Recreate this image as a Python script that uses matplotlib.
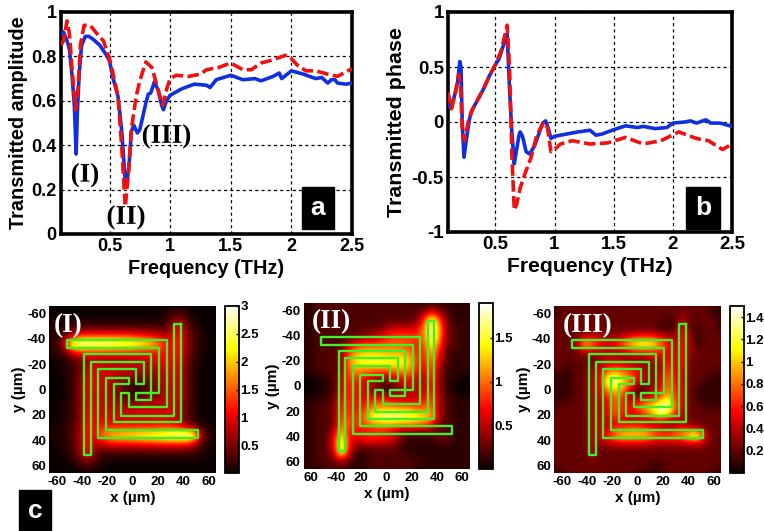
import numpy as np
import matplotlib
matplotlib.use("Agg")
import matplotlib.pyplot as plt
import matplotlib.patheffects as pe

plt.rcParams['font.family'] = ['Liberation Sans', 'DejaVu Sans']
plt.rcParams['font.weight'] = 'bold'
plt.rcParams['axes.labelweight'] = 'bold'

W, H = 764, 531

# panel a
f_amp_blue = [0.10, 0.12, 0.15, 0.17, 0.19, 0.21, 0.225, 0.235, 0.25, 0.27, 0.30, 0.33, 0.37, 0.42, 0.47, 0.50, 0.53, 0.57, 0.60, 0.63, 0.64, 0.66, 0.68, 0.70, 0.73, 0.75, 0.80, 0.82, 0.84, 0.87, 0.90, 0.93, 0.945, 0.97, 1.00, 1.10, 1.20, 1.30, 1.33, 1.38, 1.50, 1.60, 1.70, 1.75, 1.85, 1.90, 1.92, 2.00, 2.10, 2.20, 2.25, 2.30, 2.33, 2.36, 2.38, 2.45, 2.50]
amp_blue = [0.90, 0.91, 0.87, 0.83, 0.72, 0.58, 0.36, 0.55, 0.72, 0.85, 0.89, 0.89, 0.875, 0.85, 0.81, 0.78, 0.70, 0.62, 0.47, 0.24, 0.22, 0.30, 0.46, 0.49, 0.455, 0.47, 0.59, 0.63, 0.635, 0.685, 0.65, 0.58, 0.56, 0.60, 0.625, 0.655, 0.675, 0.67, 0.66, 0.695, 0.715, 0.695, 0.70, 0.69, 0.71, 0.725, 0.70, 0.735, 0.72, 0.70, 0.705, 0.68, 0.695, 0.695, 0.68, 0.675, 0.68]
f_amp_red = [0.10, 0.12, 0.15, 0.17, 0.19, 0.22, 0.24, 0.26, 0.29, 0.34, 0.40, 0.45, 0.50, 0.53, 0.57, 0.60, 0.63, 0.66, 0.68, 0.72, 0.75, 0.80, 0.85, 0.90, 0.94, 0.97, 1.00, 1.05, 1.15, 1.25, 1.30, 1.40, 1.50, 1.60, 1.67, 1.75, 1.85, 1.95, 2.00, 2.05, 2.12, 2.20, 2.30, 2.38, 2.45, 2.50]
amp_red = [0.85, 0.87, 0.96, 0.90, 0.75, 0.56, 0.65, 0.85, 0.94, 0.94, 0.90, 0.87, 0.79, 0.72, 0.62, 0.40, 0.12, 0.30, 0.47, 0.62, 0.69, 0.775, 0.75, 0.65, 0.58, 0.65, 0.70, 0.715, 0.71, 0.72, 0.74, 0.75, 0.77, 0.74, 0.74, 0.77, 0.785, 0.805, 0.79, 0.76, 0.735, 0.735, 0.72, 0.71, 0.73, 0.745]

# panel b
f_ph_blue = [0.10, 0.12, 0.15, 0.18, 0.20, 0.21, 0.22, 0.235, 0.25, 0.28, 0.30, 0.35, 0.40, 0.45, 0.50, 0.53, 0.56, 0.60, 0.62, 0.64, 0.66, 0.68, 0.70, 0.71, 0.73, 0.76, 0.79, 0.83, 0.87, 0.90, 0.925, 0.94, 0.97, 1.00, 1.10, 1.20, 1.30, 1.35, 1.40, 1.50, 1.60, 1.70, 1.75, 1.85, 1.95, 2.00, 2.10, 2.15, 2.20, 2.28, 2.32, 2.40, 2.50]
ph_blue = [0.15, 0.13, 0.22, 0.35, 0.55, 0.50, 0.00, -0.32, -0.20, 0.02, 0.10, 0.20, 0.30, 0.42, 0.52, 0.57, 0.67, 0.80, 0.30, -0.10, -0.38, -0.25, -0.12, -0.09, -0.13, -0.27, -0.29, -0.22, -0.10, -0.01, 0.01, -0.03, -0.15, -0.13, -0.11, -0.09, -0.075, -0.12, -0.11, -0.07, -0.035, -0.05, -0.04, -0.06, -0.05, -0.01, 0.00, 0.01, -0.01, 0.02, -0.01, -0.01, -0.04]
f_ph_red = [0.10, 0.13, 0.16, 0.19, 0.205, 0.22, 0.24, 0.27, 0.30, 0.35, 0.40, 0.45, 0.50, 0.55, 0.60, 0.62, 0.64, 0.66, 0.68, 0.71, 0.75, 0.80, 0.85, 0.91, 0.94, 0.97, 1.00, 1.05, 1.15, 1.30, 1.45, 1.60, 1.75, 1.90, 2.05, 2.20, 2.30, 2.42, 2.50]
ph_red = [0.27, 0.12, 0.25, 0.43, 0.35, -0.05, -0.17, 0.00, 0.10, 0.20, 0.30, 0.42, 0.52, 0.65, 0.88, 0.50, -0.30, -0.80, -0.75, -0.60, -0.47, -0.33, -0.12, 0.00, -0.05, -0.27, -0.25, -0.20, -0.17, -0.20, -0.19, -0.14, -0.20, -0.17, -0.09, -0.15, -0.17, -0.25, -0.20]

freq_ticks = [0.5, 1, 1.5, 2, 2.5]
freq_labels = ['0.5', '1', '1.5', '2', '2.5']

# spiral outline (um)
spiral_x = [38, 38, -15, -15, -3, -3, -21, -21, 52, 52, -27, -27, 3, 3, 9, 9, -33, -33, -38, -38, 15, 15, 3, 3, 21, 21, -52, -52, 27, 27, -3, -3, -9, -9, 33, 33, 38]
spiral_y = [-52, 26, 26, -4, -4, -9, -9, 32, 32, 38, 38, -16, -16, -4, -4, -22, -22, 52, 52, -28, -28, 8, 8, 3, 3, -33, -33, -39, -39, 14, 14, 3, 3, 21, 21, -52, -52]

# field maps, x10, 6 um grid from -66 to 66, rows top to bottom
field_I = [
 [0, 0, 0, 0, 0, 0, 0, 0, 0, 0, 0, 0, 0, 0, 0, 0, 0, 0, 0, 0, 0, 0, 0],
 [0, 0, 0, 0, 0, 0, 0, 0, 0, 0, 0, 0, 0, 0, 0, 1, 2, 3, 2, 0, 0, 0, 0],
 [1, 1, 1, 1, 1, 1, 1, 1, 1, 1, 1, 1, 1, 1, 1, 1, 4, 8, 4, 1, 0, 0, 0],
 [1, 1, 1, 3, 4, 4, 4, 4, 4, 4, 4, 4, 4, 4, 4, 3, 6, 11, 6, 2, 1, 0, 0],
 [1, 1, 4, 9, 14, 15, 15, 15, 15, 15, 15, 14, 13, 12, 11, 9, 8, 13, 7, 3, 1, 0, 0],
 [1, 2, 8, 28, 30, 30, 30, 30, 29, 28, 27, 26, 25, 23, 19, 14, 10, 13, 7, 3, 1, 1, 0],
 [1, 1, 4, 10, 14, 14, 13, 13, 13, 13, 13, 13, 12, 12, 12, 12, 10, 13, 6, 3, 1, 0, 0],
 [0, 1, 1, 3, 5, 6, 8, 7, 7, 7, 7, 8, 8, 9, 10, 11, 10, 12, 6, 2, 1, 0, 0],
 [0, 0, 1, 2, 4, 8, 10, 9, 9, 9, 9, 8, 8, 8, 8, 10, 10, 11, 5, 2, 0, 0, 0],
 [0, 0, 1, 2, 4, 9, 10, 9, 9, 8, 8, 7, 6, 7, 6, 9, 9, 11, 5, 2, 0, 0, 0],
 [0, 0, 0, 2, 5, 10, 10, 9, 8, 7, 5, 4, 4, 4, 6, 8, 9, 10, 5, 2, 0, 0, 0],
 [0, 0, 0, 2, 5, 10, 10, 9, 8, 5, 3, 1, 1, 3, 5, 8, 8, 10, 5, 2, 0, 0, 0],
 [0, 0, 0, 2, 5, 10, 9, 8, 8, 6, 4, 3, 4, 5, 5, 8, 8, 10, 5, 2, 0, 0, 0],
 [0, 0, 1, 2, 5, 10, 10, 9, 8, 8, 6, 6, 7, 8, 8, 8, 9, 9, 4, 2, 0, 0, 0],
 [0, 0, 1, 2, 5, 11, 10, 9, 9, 9, 9, 9, 9, 9, 9, 9, 9, 9, 4, 2, 0, 0, 0],
 [0, 0, 1, 2, 5, 11, 10, 10, 10, 9, 9, 9, 9, 9, 10, 10, 9, 8, 4, 2, 1, 0, 0],
 [1, 1, 1, 3, 6, 12, 11, 12, 13, 13, 13, 13, 13, 13, 13, 13, 13, 12, 10, 5, 2, 1, 0],
 [1, 1, 1, 3, 6, 12, 9, 18, 20, 21, 22, 23, 24, 25, 26, 27, 29, 30, 30, 30, 8, 2, 1],
 [0, 1, 1, 3, 6, 12, 8, 9, 12, 13, 13, 13, 14, 14, 14, 15, 15, 15, 15, 11, 4, 1, 0],
 [0, 0, 1, 2, 6, 12, 6, 4, 4, 4, 4, 4, 4, 4, 4, 4, 4, 4, 4, 3, 1, 1, 0],
 [0, 0, 0, 2, 4, 8, 4, 1, 1, 1, 1, 1, 1, 1, 1, 1, 1, 1, 1, 1, 1, 0, 0],
 [0, 0, 0, 0, 2, 3, 2, 1, 0, 0, 0, 0, 0, 0, 0, 0, 0, 0, 0, 0, 0, 0, 0],
 [0, 0, 0, 0, 0, 0, 0, 0, 0, 0, 0, 0, 0, 0, 0, 0, 0, 0, 0, 0, 0, 0, 0],
]
field_II = [
 [1, 1, 2, 2, 2, 2, 2, 2, 2, 2, 2, 2, 2, 2, 2, 1, 1, 2, 1, 1, 1, 1, 1],
 [1, 1, 2, 2, 2, 2, 2, 2, 2, 2, 2, 2, 2, 2, 2, 2, 3, 5, 3, 2, 1, 1, 1],
 [1, 1, 2, 2, 2, 2, 2, 2, 2, 2, 2, 2, 2, 2, 2, 3, 8, 15, 8, 2, 1, 1, 1],
 [1, 1, 2, 2, 2, 2, 2, 2, 2, 2, 2, 3, 4, 4, 4, 5, 11, 19, 11, 3, 2, 1, 1],
 [1, 1, 2, 2, 2, 2, 2, 2, 3, 4, 5, 7, 8, 8, 8, 8, 11, 19, 11, 3, 2, 1, 1],
 [1, 1, 2, 2, 1, 2, 3, 5, 6, 6, 7, 8, 9, 9, 9, 8, 10, 17, 10, 3, 2, 1, 1],
 [1, 1, 2, 2, 2, 3, 7, 10, 11, 11, 11, 11, 11, 10, 9, 7, 9, 14, 8, 2, 2, 1, 1],
 [1, 1, 2, 2, 2, 4, 10, 13, 14, 14, 14, 13, 13, 13, 12, 8, 8, 12, 6, 2, 1, 1, 1],
 [1, 1, 2, 2, 2, 4, 11, 14, 15, 16, 16, 15, 15, 15, 13, 8, 7, 11, 5, 2, 1, 1, 1],
 [1, 1, 2, 2, 2, 4, 10, 11, 10, 9, 9, 9, 10, 11, 11, 7, 6, 10, 4, 1, 1, 1, 1],
 [0, 0, 1, 1, 2, 6, 9, 8, 7, 6, 4, 4, 6, 7, 8, 5, 5, 9, 4, 1, 1, 0, 0],
 [0, 0, 0, 1, 2, 6, 8, 7, 6, 4, 2, 1, 2, 4, 6, 5, 5, 8, 4, 1, 0, 0, 0],
 [0, 0, 1, 1, 2, 7, 8, 7, 6, 5, 4, 3, 4, 5, 5, 5, 6, 9, 4, 1, 1, 0, 0],
 [1, 1, 1, 2, 3, 8, 8, 7, 7, 8, 9, 8, 7, 6, 6, 6, 8, 10, 4, 2, 1, 1, 1],
 [1, 1, 2, 2, 3, 9, 8, 7, 8, 11, 12, 12, 12, 12, 12, 10, 10, 10, 4, 2, 1, 1, 1],
 [1, 1, 2, 2, 3, 10, 8, 8, 10, 15, 17, 18, 18, 17, 16, 15, 14, 12, 4, 2, 1, 1, 1],
 [1, 1, 2, 2, 3, 11, 9, 8, 9, 11, 12, 12, 12, 12, 12, 11, 10, 7, 3, 2, 1, 1, 1],
 [1, 1, 2, 2, 5, 13, 7, 7, 7, 7, 7, 7, 5, 3, 3, 3, 3, 3, 2, 2, 1, 1, 1],
 [1, 1, 2, 2, 7, 16, 7, 6, 8, 8, 8, 7, 6, 3, 1, 1, 1, 1, 3, 3, 1, 1, 1],
 [1, 1, 2, 2, 7, 19, 7, 3, 3, 3, 3, 3, 3, 1, 1, 1, 1, 1, 1, 1, 1, 1, 1],
 [1, 1, 2, 2, 5, 16, 5, 1, 1, 2, 2, 2, 2, 2, 1, 1, 1, 1, 1, 1, 1, 1, 1],
 [1, 1, 2, 2, 2, 4, 2, 1, 1, 2, 2, 2, 2, 2, 2, 2, 1, 1, 1, 1, 1, 1, 1],
 [1, 1, 1, 2, 2, 2, 1, 1, 1, 2, 2, 2, 2, 2, 2, 1, 1, 1, 1, 1, 1, 1, 1],
]
field_III = [
 [1, 2, 2, 2, 2, 2, 2, 2, 2, 2, 2, 2, 2, 2, 2, 2, 2, 2, 2, 2, 2, 1, 1],
 [1, 2, 2, 2, 2, 2, 2, 2, 2, 2, 2, 2, 2, 2, 2, 2, 2, 3, 2, 2, 2, 1, 1],
 [2, 2, 2, 2, 2, 2, 2, 2, 2, 2, 2, 2, 2, 2, 2, 1, 2, 4, 2, 2, 2, 2, 1],
 [2, 2, 2, 2, 2, 2, 2, 2, 2, 2, 2, 2, 2, 2, 1, 1, 2, 5, 2, 1, 2, 2, 1],
 [2, 2, 2, 2, 4, 4, 4, 3, 3, 4, 5, 6, 6, 6, 5, 4, 3, 6, 3, 1, 2, 2, 2],
 [2, 2, 2, 4, 11, 9, 6, 5, 6, 8, 11, 12, 13, 12, 9, 6, 4, 6, 3, 1, 2, 2, 2],
 [2, 2, 2, 2, 4, 4, 4, 4, 4, 4, 5, 6, 6, 6, 6, 5, 4, 6, 3, 2, 2, 2, 2],
 [2, 2, 2, 2, 2, 2, 3, 4, 4, 3, 3, 3, 3, 4, 4, 6, 4, 6, 2, 2, 2, 2, 2],
 [2, 2, 1, 2, 2, 3, 4, 5, 6, 6, 5, 4, 3, 3, 3, 7, 4, 6, 2, 2, 2, 2, 2],
 [1, 1, 1, 2, 2, 4, 4, 10, 11, 9, 8, 6, 4, 3, 4, 8, 5, 5, 2, 2, 2, 1, 1],
 [1, 1, 1, 2, 2, 4, 4, 13, 15, 11, 8, 5, 3, 3, 4, 9, 5, 5, 2, 2, 1, 1, 1],
 [1, 1, 1, 2, 2, 4, 4, 9, 10, 9, 5, 1, 1, 4, 5, 9, 6, 5, 2, 1, 1, 1, 1],
 [1, 1, 1, 2, 2, 4, 4, 6, 8, 7, 3, 3, 4, 5, 7, 11, 6, 5, 2, 1, 1, 1, 1],
 [1, 2, 2, 2, 2, 4, 4, 5, 8, 6, 5, 7, 9, 10, 13, 15, 7, 5, 2, 2, 1, 1, 1],
 [2, 2, 2, 2, 2, 4, 4, 5, 8, 6, 5, 6, 8, 11, 15, 13, 6, 4, 2, 2, 2, 2, 2],
 [2, 2, 2, 2, 2, 4, 4, 4, 6, 5, 4, 4, 4, 4, 5, 4, 4, 4, 2, 2, 2, 2, 2],
 [2, 2, 2, 2, 2, 4, 4, 4, 6, 6, 7, 7, 6, 5, 4, 3, 4, 5, 4, 3, 2, 2, 2],
 [2, 2, 2, 2, 2, 4, 4, 6, 9, 11, 11, 11, 11, 9, 8, 8, 9, 10, 13, 14, 4, 2, 2],
 [2, 2, 2, 2, 2, 4, 3, 4, 5, 5, 5, 5, 5, 4, 4, 4, 4, 4, 5, 5, 3, 2, 2],
 [2, 2, 2, 2, 2, 4, 2, 2, 2, 2, 2, 2, 2, 2, 2, 2, 2, 2, 2, 2, 2, 2, 2],
 [2, 2, 2, 2, 2, 3, 2, 2, 2, 2, 2, 2, 2, 2, 2, 2, 2, 2, 2, 2, 2, 2, 2],
 [2, 2, 2, 2, 2, 2, 2, 2, 2, 2, 2, 2, 2, 1, 1, 2, 2, 2, 2, 2, 2, 2, 2],
 [1, 1, 2, 2, 2, 2, 2, 2, 2, 2, 2, 1, 1, 1, 1, 2, 2, 2, 2, 2, 2, 1, 1],
]

map_ticks = [-60, -40, -20, 0, 20, 40, 60]
map_xlabels_I = ['-60', '-40', '-20', '0', '20', '40', '60']
map_xlabels_II = ['60', '-40', '20', '0', '20', '40', '60']
map_ylabels = ['-60', '-40', '-20', '0', '20', '40', '60']
cbar_I = [0.5, 1, 1.5, 2, 2.5, 3]
cbar_II = [0.5, 1, 1.5]
cbar_III = [0.2, 0.4, 0.6, 0.8, 1, 1.2, 1.4]


def box(fig, left, top, right, bottom):
    return fig.add_axes([left / W, 1 - bottom / H, (right - left) / W, (bottom - top) / H])


def line_panel(fig, rect, fb, yb, fr, yr, ylim, yticks, ylabels, ylabel, ylab_x, tick_fs, xlab_fs, ylab_fs):
    ax = box(fig, *rect)
    ax.plot(fb, yb, color='#1030e0', lw=2.6, zorder=3)
    ax.plot(fr, yr, color='#f01010', lw=2.6, dashes=(3.2, 1.2), zorder=4)
    ax.set_xlim(0.1, 2.5)
    ax.set_ylim(*ylim)
    ax.set_xticks(freq_ticks, freq_labels)
    ax.set_yticks(yticks, ylabels)
    ax.grid(True, color='black', ls=(0, (2.5, 2.5)), lw=0.9)
    ax.tick_params(labelsize=tick_fs, length=0, pad=3)
    for s in ax.spines.values():
        s.set_linewidth(2.6)
    ax.set_xlabel('Frequency (THz)', fontsize=xlab_fs, labelpad=3)
    fig.text(ylab_x / W, 1 - (rect[1] + rect[3]) / 2 / H, ylabel, rotation=90,
             fontsize=ylab_fs, ha='center', va='center')
    return ax


def map_panel(fig, rect, cb_x, field, vmax, xlabels, cticks):
    ax = box(fig, *rect)
    im = ax.imshow(np.array(field) / 10, cmap='hot', vmin=0, vmax=vmax,
                   extent=[-69, 69, 69, -69], interpolation='bicubic')
    ax.plot(spiral_x, spiral_y, color='#40f028', lw=1.7)
    ax.set_xlim(-66, 66)
    ax.set_ylim(66, -66)
    ax.set_xticks(map_ticks, xlabels)
    ax.set_yticks(map_ticks, map_ylabels)
    ax.tick_params(labelsize=9.5, length=0, pad=2)
    for s in ax.spines.values():
        s.set_visible(False)
    ax.set_xlabel('x (\u00b5m)', fontsize=11, labelpad=2)
    ax.set_ylabel('y (\u00b5m)', fontsize=11, labelpad=1)
    cax = box(fig, cb_x, rect[1], cb_x + 14, rect[3])
    cb = fig.colorbar(im, cax=cax)
    cb.set_ticks(cticks, labels=[str(c) for c in cticks])
    cax.tick_params(labelsize=9.5, length=2, width=1, direction='in', pad=1)
    cb.outline.set_linewidth(1.3)
    return ax


def tag(fig, left, top, right, bottom, s):
    fig.patches.append(plt.Rectangle((left / W, 1 - bottom / H), (right - left) / W, (bottom - top) / H,
                                     transform=fig.transFigure, color='black', zorder=5))
    fig.text((left + right) / 2 / W, 1 - (top + bottom) / 2 / H, s, color='white', fontsize=19,
             ha='center', va='center', zorder=6)


fig = plt.figure(figsize=(W / 100, H / 100), dpi=100)

ax_a = line_panel(fig, (61, 12, 352, 234), f_amp_blue, amp_blue, f_amp_red, amp_red, (0, 1),
                  [0, 0.2, 0.4, 0.6, 0.8, 1], ['0', '0.2', '0.4', '0.6', '0.8', '1'],
                  'Transmitted amplitude', 19, 13, 14.3, 14.3)
ax_b = line_panel(fig, (448, 12, 732, 232), f_ph_blue, ph_blue, f_ph_red, ph_red, (-1, 1),
                  [-1, -0.5, 0, 0.5, 1], ['-1', '-0.5', '0', '0.5', '1'],
                  'Transmitted phase', 397, 13.5, 15.2, 15.4)

halo = [pe.withStroke(linewidth=2.5, foreground='white')]
for s, x, y in [('(I)', 0.18, 0.265), ('(II)', 0.475, 0.075), ('(III)', 0.765, 0.44)]:
    ax_a.text(x, y, s, family='Liberation Serif', fontsize=19.5, va='center', zorder=6,
              clip_on=False, path_effects=halo)

ax_1 = map_panel(fig, (49, 306, 216, 473), 225, field_I, 3.0, map_xlabels_I, cbar_I)
ax_2 = map_panel(fig, (303, 303, 470, 469), 479, field_II, 1.9, map_xlabels_II, cbar_II)
ax_3 = map_panel(fig, (554, 306, 721, 473), 730, field_III, 1.5, map_xlabels_I, cbar_III)

for ax, s, x in [(ax_1, '(I)', 0.03), (ax_2, '(II)', 0.05), (ax_3, '(III)', 0.05)]:
    ax.text(x, 0.885, s, transform=ax.transAxes, family='Liberation Serif', color='white',
            fontsize=19.5, va='center')

tag(fig, 302, 187, 334, 229, 'a')
tag(fig, 686, 187, 720, 229, 'b')
tag(fig, 19, 490, 51, 531, 'c')

fig.savefig('out.png', dpi=100)
